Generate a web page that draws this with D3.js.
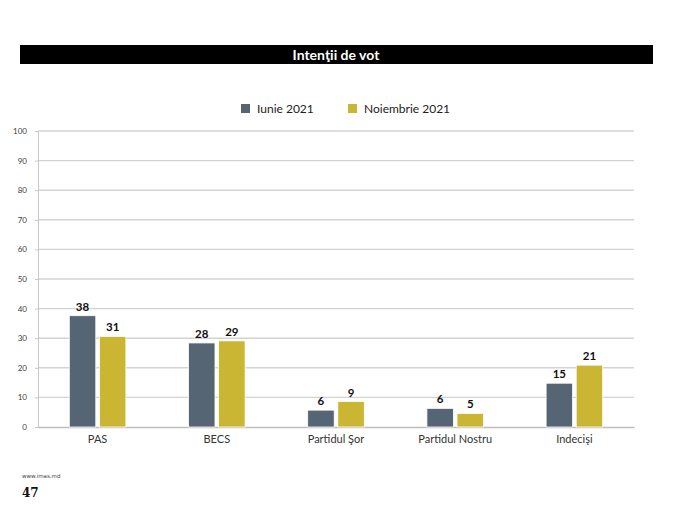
<!DOCTYPE html>
<html><head><meta charset="utf-8">
<script src="https://cdn.jsdelivr.net/npm/d3@7"></script>
<style>body{margin:0;background:#fff}svg{display:block}</style>
</head><body>
<script>
const categories = ["PAS", "BECS", "Partidul Şor", "Partidul Nostru", "Indecişi"];
const seriesNames = ["Iunie 2021", "Noiembrie 2021"];
const iunie = [37.6, 28.4, 5.7, 6.3, 14.8];
const noiembrie = [30.6, 29.1, 8.6, 4.6, 20.9];
const yTicks = [0, 10, 20, 30, 40, 50, 60, 70, 80, 90, 100];
const colors = ["#566574", "#CAB633"];

const W = 675, H = 507;
const svg = d3.select("body").append("svg").attr("width", W).attr("height", H);
const font = "Lato, 'Open Sans', sans-serif";

// title bar
svg.append("rect").attr("x", 20).attr("y", 45).attr("width", 633).attr("height", 19).attr("fill", "#000");
svg.append("text").attr("x", 336).attr("y", 59.5).attr("text-anchor", "middle")
  .attr("fill", "#fff").attr("font-family", font).attr("font-weight", "bold").attr("font-size", 14)
  .text("Intenţii de vot");

const m = {l: 38, r: 634, t: 131, b: 427};
const x = d3.scaleBand().domain(categories).range([m.l, m.r]);
const x1 = d3.scaleBand().domain(seriesNames).range([x.bandwidth()/2 - 28.3, x.bandwidth()/2 + 28.3]).paddingInner(0.12);
const y = d3.scaleLinear().domain([0, 100]).range([m.b, m.t]);

// gridlines
svg.append("g").selectAll("line").data(yTicks.filter(d => d > 0)).join("line")
  .attr("x1", m.l).attr("x2", m.r).attr("y1", d => y(d)).attr("y2", d => y(d))
  .attr("stroke", "#d3d3d3").attr("stroke-width", 1.4);

// y axis
const yAxis = d3.axisLeft(y).tickValues(yTicks).tickSize(3).tickPadding(8);
const ya = svg.append("g").attr("transform", `translate(${m.l},0)`).call(yAxis);
ya.select(".domain").attr("stroke", "#c8c8c8");
ya.selectAll(".tick line").attr("stroke", "#c8c8c8");
ya.selectAll("text").attr("font-family", font).attr("font-size", 8).attr("fill", "#404040");

// x axis line
const xAxis = d3.axisBottom(x).tickSize(0).tickPadding(8);
const xa = svg.append("g").attr("transform", `translate(0,${m.b})`).call(xAxis);
xa.select(".domain").attr("stroke", "#bdbdbd").attr("stroke-width", 1.3);
xa.selectAll("text").attr("font-family", font).attr("font-size", 11).attr("fill", "#333");

// bars
const data = categories.map((c, i) => ({c, vals: [iunie[i], noiembrie[i]]}));
const g = svg.append("g").selectAll("g").data(data).join("g")
  .attr("transform", d => `translate(${x(d.c)},0)`);
g.selectAll("rect").data(d => d.vals.map((v, j) => ({v, s: seriesNames[j], j}))).join("rect")
  .attr("x", d => x1(d.s)).attr("width", x1.bandwidth())
  .attr("y", d => y(d.v)).attr("height", d => y(0) - y(d.v))
  .attr("fill", d => colors[d.j]).attr("stroke", "#fff").attr("stroke-width", 0.8);
g.selectAll("text").data(d => d.vals.map((v, j) => ({v, s: seriesNames[j], j}))).join("text")
  .attr("x", d => x1(d.s) + x1.bandwidth()/2).attr("y", d => y(d.v) - 5)
  .attr("text-anchor", "middle").attr("font-family", font).attr("font-weight", "bold")
  .attr("font-size", 11.5).attr("fill", "#111").text(d => Math.round(d.v));

// legend
const leg = svg.append("g");
const legX = [241, 348];
seriesNames.forEach((s, i) => {
  leg.append("rect").attr("x", legX[i]).attr("y", 104).attr("width", 9).attr("height", 9).attr("fill", colors[i]);
  leg.append("text").attr("x", legX[i] + 16).attr("y", 113).attr("font-family", font)
    .attr("font-size", 12).attr("fill", "#222").text(s);
});

// footer
svg.append("text").attr("x", 22).attr("y", 478).attr("font-family", "'DejaVu Sans', sans-serif")
  .attr("font-size", 5.5).attr("fill", "#444").text("www.imas.md");
svg.append("text").attr("x", 22).attr("y", 497).attr("font-family", "'DejaVu Serif', 'Liberation Serif', serif")
  .attr("font-weight", "bold").attr("font-size", 12).attr("fill", "#111").text("47");
</script>
</body></html>
